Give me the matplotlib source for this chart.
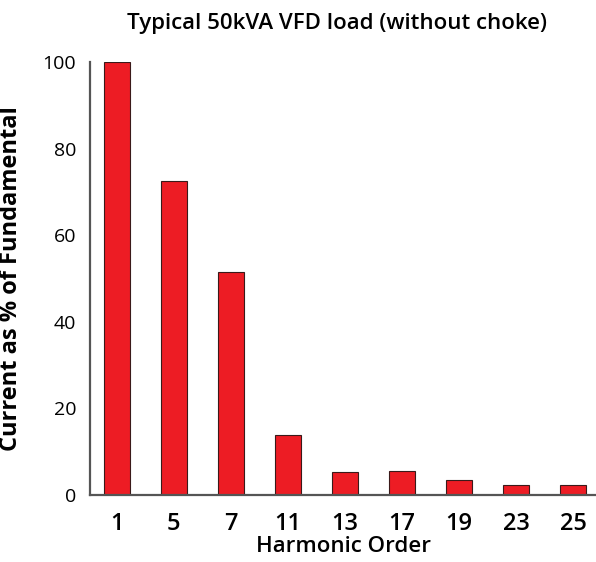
import matplotlib
matplotlib.use("Agg")
import matplotlib.pyplot as plt

plt.rcParams['font.family'] = ['Open Sans', 'DejaVu Sans']

harmonic_orders = ["1", "5", "7", "11", "13", "17", "19", "23", "25"]
current_pct = [100, 72.5, 51.5, 13.9, 5.3, 5.5, 3.5, 2.3, 2.3]

fig = plt.figure(figsize=(5.96, 5.62), dpi=100)
ax = fig.add_axes([90/596, 1-495/562, 1-90/596, (495-62)/562])

pos = list(range(len(harmonic_orders)))
ax.bar(pos, current_pct, width=0.45, color="#ED1C24", edgecolor="#3a1a1a", linewidth=0.8, zorder=2)

ax.set_xlim(-0.47, 8.4)
ax.set_ylim(0, 100)
ax.set_xticks(pos)
ax.set_xticklabels(harmonic_orders, fontsize=17, fontweight="semibold")
ax.set_yticks([0, 20, 40, 60, 80, 100])
ax.tick_params(axis="x", length=0, pad=12)
ax.tick_params(axis="y", length=0, pad=10, labelsize=14)

for s in ["top", "right"]:
    ax.spines[s].set_visible(False)
for s in ["left", "bottom"]:
    ax.spines[s].set_color("#555555")
    ax.spines[s].set_linewidth(1.6)

ax.set_xlabel("Harmonic Order", fontsize=16, fontweight="semibold", labelpad=0)
ax.set_ylabel("Current as % of Fundamental", fontsize=17, fontweight="bold", labelpad=14)
fig.text(0.565, 1-23/562, "Typical 50kVA VFD load (without choke)", ha="center", va="center", fontsize=16, fontweight="semibold")

fig.savefig("out.png", dpi=100)
